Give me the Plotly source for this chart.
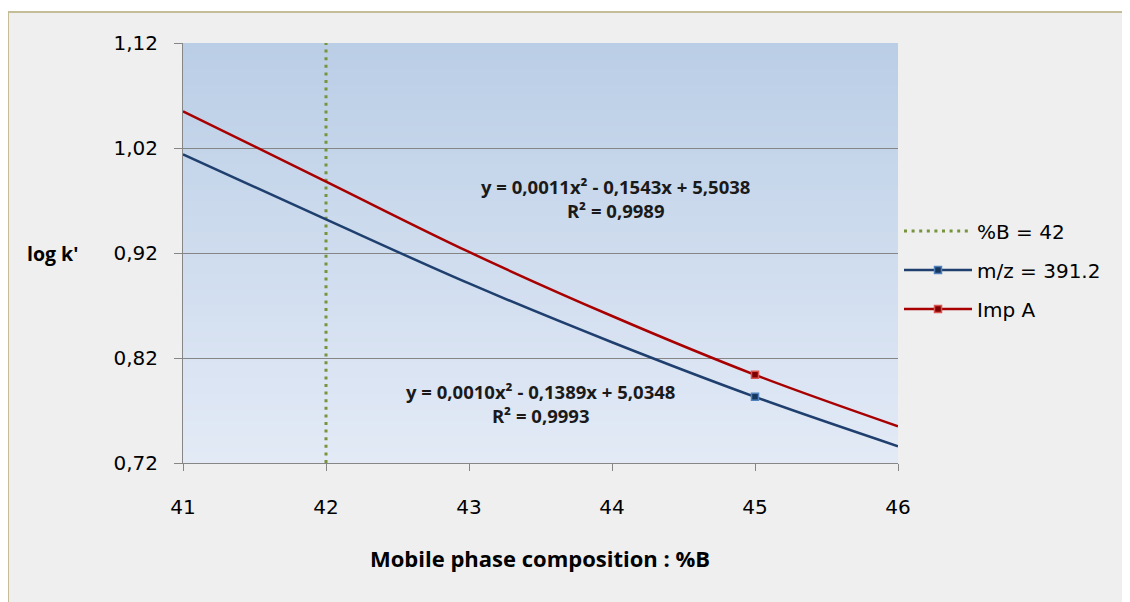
import plotly.graph_objects as go

# ---- data ----
x_pct = [41, 42, 43, 44, 45, 46]
mz_logk = [1.014, 0.952, 0.891, 0.835, 0.783, 0.736]      # m/z = 391.2
impa_logk = [1.055, 0.988, 0.921, 0.860, 0.804, 0.755]    # Imp A
marker_idx = 4                                            # marked point at %B = 45
vline_x = [42, 42]
vline_y = [0.72, 1.12]
y_ticks = [0.72, 0.82, 0.92, 1.02, 1.12]
x_ticks = [41, 42, 43, 44, 45, 46]
eq_impa = "y = 0,0011x² - 0,1543x + 5,5038<br>R² = 0,9989"
eq_mz = "y = 0,0010x² - 0,1389x + 5,0348<br>R² = 0,9993"

BLUE = "#1f3f6e"
RED = "#a80000"
GREEN = "#77933c"
GRID = "#868686"
TICK_FONT = "DejaVu Sans"
BOLD_FONT = "Open Sans"

fig = go.Figure()

# vertical dotted line series
fig.add_trace(go.Scatter(x=vline_x, y=vline_y, mode="lines", name="%B = 42",
                         line=dict(color=GREEN, width=3, dash="3px,4.6px"),
                         legendgroup="g1", hoverinfo="skip"))

# fitted curves
for name, ys, lc, mfill, mline, grp in [
    ("m/z = 391.2", mz_logk, BLUE, "#17375e", "#4f81bd", "g2"),
    ("Imp A", impa_logk, RED, "#7f0000", "#d9534f", "g3"),
]:
    fig.add_trace(go.Scatter(x=x_pct, y=ys, mode="lines", line=dict(color=lc, width=2.5, shape="spline"),
                             showlegend=False, legendgroup=grp))
    fig.add_trace(go.Scatter(x=[x_pct[marker_idx]], y=[ys[marker_idx]], mode="markers",
                             marker=dict(symbol="square", size=7, color=mfill, line=dict(color=mline, width=1.5)),
                             showlegend=False, legendgroup=grp))
    # legend entry
    fig.add_trace(go.Scatter(x=[None], y=[None], mode="lines+markers", name=name, legendgroup=grp,
                             line=dict(color=lc, width=2.5),
                             marker=dict(symbol="square", size=7, color=mfill, line=dict(color=mline, width=1.5))))

# page is offset by the 8px body margin; geometry below is in page pixels
OFF = 8
W, H = 1130 - OFF, 602 - OFF
L, R, T, B = 183 - OFF, 898 - OFF, 43 - OFF, 463 - OFF
def px(xp):
    return (xp - OFF - L) / (R - L)
def py(yp):
    return (B - (yp - OFF)) / (B - T)

shapes = []
# chart area background with tan border
shapes.append(dict(type="rect", xref="paper", yref="paper", x0=px(8), x1=px(1145), y0=py(615), y1=py(12),
                   fillcolor="#efefef", line=dict(color="#c4bd97", width=2), layer="below"))
# gradient plot-area background
N = 80
top = (186, 206, 230)
bot = (227, 234, 246)
for i in range(N):
    t = i / (N - 1)
    c = tuple(round(bot[k] + (top[k] - bot[k]) * t) for k in range(3))
    shapes.append(dict(type="rect", xref="paper", yref="paper", x0=0, x1=1,
                       y0=i / N, y1=min(1, (i + 1) / N + 0.003),
                       fillcolor="rgb(%d,%d,%d)" % c, line=dict(width=0), layer="below"))

def ann(text, xp, yp, size, color="black"):
    return dict(text=text, x=px(xp), y=py(yp), xref="paper", yref="paper", showarrow=False,
                xanchor="center", yanchor="middle", align="center",
                font=dict(family=BOLD_FONT, size=size, color=color, weight="bold"))

annotations = [
    ann(eq_impa, 615, 198, 18.5, "#1a1a1a"),
    ann(eq_mz, 540, 403, 18.5, "#1a1a1a"),
    ann("log k'", 52, 253, 19.5),
    ann("Mobile phase composition : %B", 540, 558, 22),
]

fig.update_layout(
    width=W, height=H,
    margin=dict(l=L, r=W - R, t=T, b=H - B, pad=0),
    paper_bgcolor="white",
    plot_bgcolor="rgba(0,0,0,0)",
    separators=",.",
    shapes=shapes,
    annotations=annotations,
    showlegend=True,
    legend=dict(x=px(899), y=py(270), xanchor="left", yanchor="middle",
                font=dict(family=TICK_FONT, size=20, color="black"),
                bgcolor="rgba(0,0,0,0)", tracegroupgap=10, traceorder="grouped", itemwidth=68),
    xaxis=dict(range=[41, 46], tickvals=x_ticks, showgrid=False, showline=True, linecolor=GRID, linewidth=1,
               ticks="outside", ticklen=7, tickcolor=GRID, tickfont=dict(family=TICK_FONT, size=20, color="black"),
               ticklabelstandoff=19, zeroline=False, fixedrange=True),
    yaxis=dict(range=[0.72, 1.12], tickvals=y_ticks, tickformat=".2f", showgrid=True, gridcolor=GRID, gridwidth=1,
               showline=True, linecolor=GRID, linewidth=1, ticks="outside", ticklen=8, tickcolor=GRID,
               tickfont=dict(family=TICK_FONT, size=20, color="black"), ticklabelstandoff=12,
               zeroline=False, fixedrange=True),
)

fig.write_html("out.html")
